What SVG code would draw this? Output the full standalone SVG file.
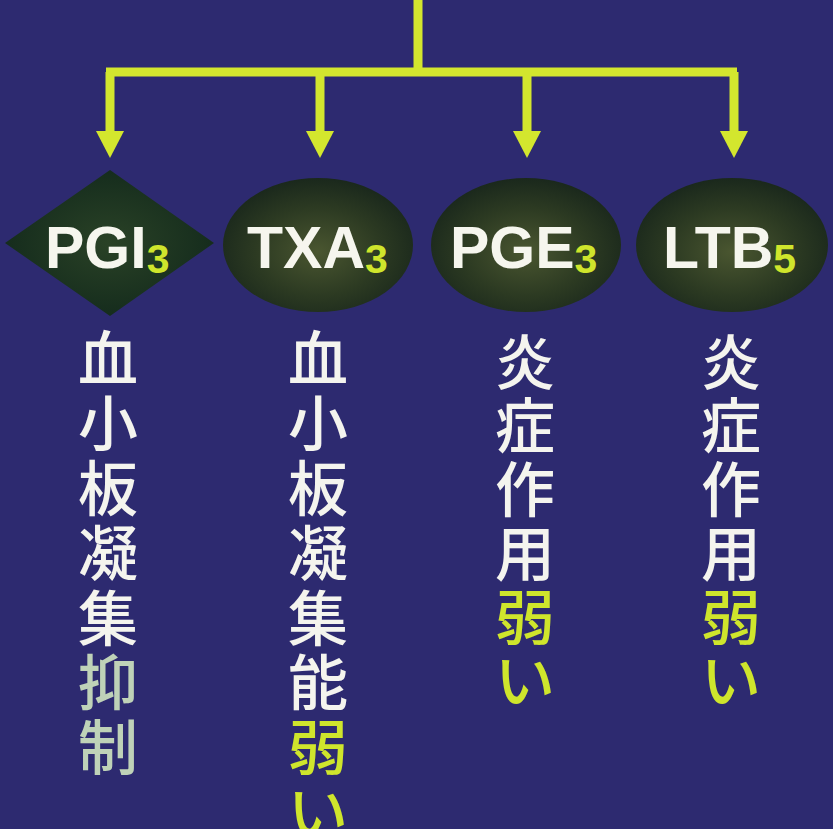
<svg xmlns="http://www.w3.org/2000/svg" width="833" height="829" viewBox="0 0 833 829">
<defs>
<radialGradient id="gEll" cx="50%" cy="55%" r="55%">
<stop offset="0" stop-color="#4a5630"/>
<stop offset="0.6" stop-color="#2c3a22"/>
<stop offset="1" stop-color="#1a281c"/>
</radialGradient>
<radialGradient id="gDia" cx="50%" cy="50%" r="55%">
<stop offset="0" stop-color="#2a4226"/>
<stop offset="1" stop-color="#132a1c"/>
</radialGradient>
<marker id="ah" viewBox="0 0 27 28" markerWidth="27" markerHeight="28" refX="1" refY="14" orient="auto" markerUnits="userSpaceOnUse">
<path d="M0,0 L27,14 L0,28 Z" fill="#d3e62e"/>
</marker>
<style>
.lbl{font-family:"Liberation Sans",Arial,sans-serif;font-weight:bold;font-size:59px;fill:#f6f6ee}
.sub{font-size:41px;fill:#cfe52c}
.v{font-family:"Noto Sans CJK JP","Noto Sans CJK SC",sans-serif;font-size:60px;font-weight:500;text-anchor:middle;fill:#f4f4ee}
.y{fill:#cfe52c}
.g{fill:#bfd2b8}
.wire{fill:none;stroke:#d3e62e;stroke-width:9}
</style>
</defs>
<rect width="833" height="829" fill="#2d2a70"/>
<g id="connectors">
<path class="wire" d="M418,0 V72 M106,72 H737"/>
<path class="wire" d="M110,72 V132" marker-end="url(#ah)"/>
<path class="wire" d="M320,72 V132" marker-end="url(#ah)"/>
<path class="wire" d="M527,72 V132" marker-end="url(#ah)"/>
<path class="wire" d="M734,72 V132" marker-end="url(#ah)"/>
</g>
<g id="PGI3">
<polygon points="5,243 110,170 214,243 110,316" fill="url(#gDia)"/>
<text class="lbl" x="45" y="268">PGI<tspan class="sub" dy="5">3</tspan></text>
</g>
<g id="TXA3">
<ellipse cx="318" cy="245" rx="95" ry="67" fill="url(#gEll)"/>
<text class="lbl" x="247" y="268">TXA<tspan class="sub" dy="5">3</tspan></text>
</g>
<g id="PGE3">
<ellipse cx="526" cy="245" rx="95" ry="67" fill="url(#gEll)"/>
<text class="lbl" x="450" y="268">PGE<tspan class="sub" dy="5">3</tspan></text>
</g>
<g id="LTB5">
<ellipse cx="732" cy="245" rx="96" ry="67" fill="url(#gEll)"/>
<text class="lbl" x="663" y="268">LTB<tspan class="sub" dy="5">5</tspan></text>
</g>
<g id="desc-PGI3" class="v">
<text x="108" y="381">血</text>
<text x="108" y="446">小</text>
<text x="108" y="511">板</text>
<text x="108" y="576">凝</text>
<text x="108" y="641">集</text>
<text x="108" y="705" class="g">抑</text>
<text x="108" y="770" class="g">制</text>
</g>
<g id="desc-TXA3" class="v">
<text x="318" y="381">血</text>
<text x="318" y="446">小</text>
<text x="318" y="511">板</text>
<text x="318" y="576">凝</text>
<text x="318" y="641">集</text>
<text x="318" y="705">能</text>
<text x="318" y="770" class="y">弱</text>
<text x="318" y="835" class="y">い</text>
</g>
<g id="desc-PGE3" class="v">
<text x="525" y="385">炎</text>
<text x="525" y="448">症</text>
<text x="525" y="512">作</text>
<text x="525" y="576">用</text>
<text x="525" y="640" class="y">弱</text>
<text x="525" y="703" class="y">い</text>
</g>
<g id="desc-LTB5" class="v">
<text x="731" y="385">炎</text>
<text x="731" y="448">症</text>
<text x="731" y="512">作</text>
<text x="731" y="576">用</text>
<text x="731" y="640" class="y">弱</text>
<text x="731" y="703" class="y">い</text>
</g>
</svg>
